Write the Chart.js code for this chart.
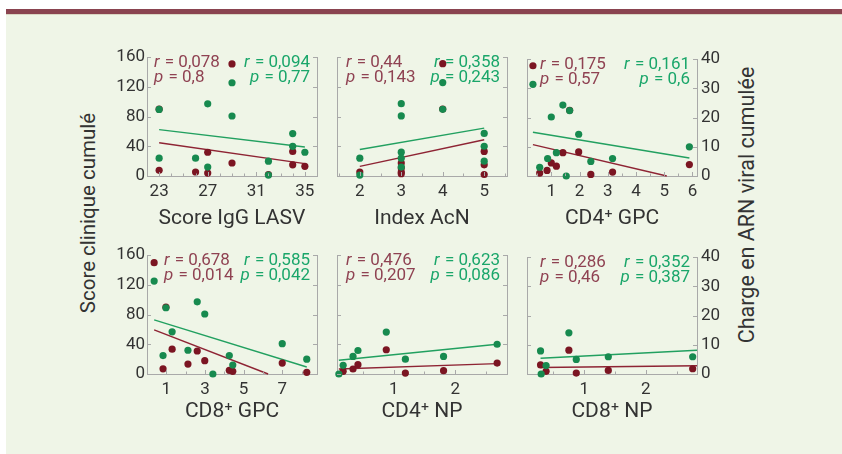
<!DOCTYPE html>
<html>
<head>
<meta charset="utf-8">
<script src="https://cdn.jsdelivr.net/npm/chart.js@4.4.1/dist/chart.umd.min.js"></script>
<style>
  body { margin: 0; width: 842px; height: 454px; background: #fff; position: relative; overflow: hidden; font-family: Roboto, "Noto Sans", sans-serif; }
  #bar { position: absolute; left: 6px; top: 9px; width: 836px; height: 5px; background: #8a4450; }
  #bg { position: absolute; left: 6px; top: 14px; width: 836px; height: 440px; background: #eff5e7; border-top: 1px solid #d9d6c2; }
  canvas { position: absolute; }
  .ytitle { position: absolute; width: 320px; height: 24px; line-height: 24px; text-align: center; font-size: 20.5px; color: #333; transform: rotate(-90deg); }
</style>
</head>
<body>
<div id="bar"></div>
<div id="bg"></div>
<div class="ytitle" style="left:-72px;top:201px">Score clinique cumulé</div>
<div class="ytitle" style="left:587px;top:193px;font-size:21.5px">Charge en ARN viral cumulée</div>
<script>
const panelTitles = ['Score IgG LASV', 'Index AcN', 'CD4⁺ GPC', 'CD8⁺ GPC', 'CD4⁺ NP', 'CD8⁺ NP']
const xMin = [22, 1.45, 0.14, 0, 0.08, 0.07]
const xMax = [36, 5.55, 6.16, 8.8, 2.84, 2.83]
const xTickValues = [[23, 27, 31, 35], [2, 3, 4, 5], [1, 2, 3, 4, 5, 6], [1, 3, 5, 7], [1, 2], [1, 2]]
const xMinorStep = [1, 0.5, 0.5, 1, 0.5, 0.5]
const scoreTicks = [0, 40, 80, 120, 160]
const chargeTicks = [0, 10, 20, 30, 40]

// score clinique (axe gauche), [x, y]
const score1 = [[29, 151], [23, 90], [23, 7.6], [26, 5.4], [27, 32], [27, 4], [29, 17.5], [32, 2], [34, 33], [34, 15], [35, 13]]
const score2 = [[4, 151], [4, 90], [2, 5.4], [3, 17.5], [3, 10.8], [3, 5.4], [3, 3.1], [5, 33], [5, 15], [5, 2]]
const score3 = [[0.35, 151], [1.65, 90], [0.59, 4], [0.85, 7.6], [1.0, 17.9], [1.18, 13.4], [1.41, 32], [1.97, 33], [2.4, 2.2], [3.17, 5.4], [5.89, 15.7]]
const score4 = [[0.37, 150], [0.98, 90], [0.83, 7], [1.3, 33.5], [2.12, 13.4], [2.6, 31], [2.99, 18], [4.26, 5], [4.44, 3.6], [7.0, 14.7], [8.27, 2.2]]
const score5 = [[0.18, 3.6], [0.34, 6.7], [0.42, 12.5], [0.88, 32.6], [1.19, 1.3], [1.81, 4.5], [2.68, 14.7]]
const score6 = [[0.29, 12.5], [0.38, 3.6], [0.75, 32.6], [0.87, 1.3], [1.39, 4.9], [2.76, 7.2]]

// charge en ARN viral (axe droit), [x, y]
const charge1 = [[29, 31.4], [23, 22.4], [27, 24.3], [29, 20.2], [23, 6], [26, 6], [27, 3], [32, 5], [32, 0.3], [34, 14.3], [34, 10], [35, 8]]
const charge2 = [[4, 31.4], [4, 22.4], [2, 6], [2, 0.3], [3, 24.3], [3, 20.2], [3, 8], [3, 6], [3, 3], [5, 14.3], [5, 10], [5, 5]]
const charge3 = [[0.35, 31.4], [0.59, 3], [0.87, 6], [1.0, 20.2], [1.18, 8], [1.41, 24.3], [1.53, 0], [1.65, 22.4], [1.97, 14.3], [2.4, 5], [3.17, 6], [5.89, 10]]
const charge4 = [[0.37, 31.3], [0.83, 6.2], [0.98, 22.3], [1.3, 14.2], [2.12, 8], [2.6, 24.3], [2.99, 20.2], [3.41, 0], [4.26, 6.2], [4.44, 3], [7.0, 10.2], [8.27, 5]]
const charge5 = [[0.11, 0], [0.18, 2.9], [0.34, 5.9], [0.42, 7.9], [0.88, 14.1], [1.19, 5], [1.81, 5.9], [2.68, 10]]
const charge6 = [[0.29, 7.9], [0.3, 0], [0.38, 2.9], [0.75, 14.1], [0.87, 5], [1.39, 5.9], [2.76, 5.9]]

// droites de regression [x0, y0, x1, y1]
const fitScore = [[23, 44.8, 35, 16.6], [2, 13, 5, 48.8], [0.35, 43, 5.09, 0], [0.37, 59.4, 6.27, 0], [0.11, 6.7, 2.68, 13.9], [0.29, 8.9, 2.83, 11.2]]
const fitCharge = [[23, 15.6, 35, 9.75], [2, 8.9, 5, 16.1], [0.35, 15, 5.89, 6.15], [0.37, 18.2, 8.27, 2.35], [0.11, 4.6, 2.68, 10], [0.29, 5.4, 2.83, 8.15]]

const rScore = ['0,078', '0,44', '0,175', '0,678', '0,476', '0,286']
const pScore = ['0,8', '0,143', '0,57', '0,014', '0,207', '0,46']
const rCharge = ['0,094', '0,358', '0,161', '0,585', '0,623', '0,352']
const pCharge = ['0,77', '0,243', '0,6', '0,042', '0,086', '0,387']

const scores = [score1, score2, score3, score4, score5, score6]
const charges = [charge1, charge2, charge3, charge4, charge5, charge6]

const FONT = 'Roboto, "Noto Sans", sans-serif'
const MAROON = '#7b1522'
const GREEN = '#178a4f'
const FRAME = '#a9a9a9'
const plotLefts = [147, 337, 527]
const plotTops = [57, 255]
const PLOT_W = 170, PLOT_H = 119
const PAD_L = 42, PAD_R = 32, PAD_T = 12, PAD_B = 62
const statOffset = [7, 9, 13, 17, 9, 13]
const titlePad = [7, 12]
const STAT_SIZE = 17

const toPts = arr => arr.map(p => ({ x: p[0], y: p[1] }))

function drawStat (ctx, letter, rest, x, y, align) {
  ctx.font = 'italic ' + STAT_SIZE + 'px ' + FONT
  const w1 = ctx.measureText(letter).width
  ctx.font = STAT_SIZE + 'px ' + FONT
  const w2 = ctx.measureText(rest).width
  const x0 = align === 'right' ? x - w1 - w2 : x
  ctx.font = 'italic ' + STAT_SIZE + 'px ' + FONT
  ctx.fillText(letter, x0, y)
  ctx.font = STAT_SIZE + 'px ' + FONT
  ctx.fillText(rest, x0 + w1 + 1, y)
}

const decor = {
  id: 'decor',
  afterDraw (chart, args, opts) {
    const i = opts.index
    const ctx = chart.ctx
    const a = chart.chartArea
    const sx = chart.scales.x, sy = chart.scales.y, sy2 = chart.scales.y2
    ctx.save()
    // petites graduations vers l'interieur
    ctx.strokeStyle = FRAME
    ctx.lineWidth = 1
    ctx.beginPath()
    const start = Math.ceil(xMin[i] / xMinorStep[i]) * xMinorStep[i]
    for (let v = start; v <= xMax[i]; v += xMinorStep[i]) {
      const px = Math.round(sx.getPixelForValue(v)) + 0.5
      const len = xTickValues[i].includes(Math.round(v * 100) / 100) ? 4 : 2.5
      ctx.moveTo(px, a.bottom)
      ctx.lineTo(px, a.bottom - len)
    }
    scoreTicks.forEach(v => {
      const py = Math.round(sy.getPixelForValue(v)) + 0.5
      ctx.moveTo(a.left, py)
      ctx.lineTo(a.left + 4, py)
    })
    chargeTicks.forEach(v => {
      const py = Math.round(sy2.getPixelForValue(v)) + 0.5
      ctx.moveTo(a.right, py)
      ctx.lineTo(a.right - 4, py)
    })
    ctx.stroke()
    // coefficients
    ctx.textBaseline = 'alphabetic'
    ctx.fillStyle = '#8f4252'
    drawStat(ctx, 'r', ' = ' + rScore[i], a.left + statOffset[i], a.top + 10, 'left')
    drawStat(ctx, 'p', ' = ' + pScore[i], a.left + statOffset[i], a.top + 25, 'left')
    ctx.fillStyle = '#1aa66a'
    drawStat(ctx, 'r', ' = ' + rCharge[i], a.right - 8, a.top + 10, 'right')
    drawStat(ctx, 'p', ' = ' + pCharge[i], a.right - 8, a.top + 25, 'right')
    ctx.restore()
  }
}

function makeChart (i) {
  const col = i % 3
  const row = Math.floor(i / 3)
  const canvas = document.createElement('canvas')
  canvas.width = PLOT_W + PAD_L + PAD_R
  canvas.height = PLOT_H + PAD_T + PAD_B
  canvas.style.left = (plotLefts[col] - PAD_L) + 'px'
  canvas.style.top = (plotTops[row] - PAD_T) + 'px'
  document.body.appendChild(canvas)

  const f = fitScore[i], g = fitCharge[i]
  const tickFont = { family: FONT, size: 17 }
  new Chart(canvas.getContext('2d'), {
    type: 'scatter',
    data: {
      datasets: [
        { type: 'scatter', data: toPts(charges[i]), yAxisID: 'y2', backgroundColor: GREEN, borderWidth: 0, pointRadius: 3.6, order: 0 },
        { type: 'scatter', data: toPts(scores[i]), yAxisID: 'y', backgroundColor: MAROON, borderWidth: 0, pointRadius: 3.6, order: 1 },
        { type: 'line', data: [{ x: g[0], y: g[1] }, { x: g[2], y: g[3] }], yAxisID: 'y2', borderColor: '#22a060', borderWidth: 1.4, pointRadius: 0, fill: false, order: 2 },
        { type: 'line', data: [{ x: f[0], y: f[1] }, { x: f[2], y: f[3] }], yAxisID: 'y', borderColor: '#8e2434', borderWidth: 1.4, pointRadius: 0, fill: false, order: 3 }
      ]
    },
    options: {
      responsive: false,
      animation: false,
      clip: false,
      layout: { padding: { top: PAD_T, left: 0, right: 0, bottom: 0 } },
      plugins: {
        legend: { display: false },
        tooltip: { enabled: false },
        decor: { index: i }
      },
      scales: {
        x: {
          type: 'linear',
          min: xMin[i],
          max: xMax[i],
          afterFit: s => { s.height = PAD_B },
          afterBuildTicks: s => { s.ticks = xTickValues[i].map(v => ({ value: v })) },
          ticks: { font: tickFont, color: '#333', padding: 6, maxRotation: 0, autoSkip: false },
          grid: { display: false, drawTicks: false },
          border: { color: FRAME },
          title: { display: true, text: panelTitles[i], color: '#333', font: { family: FONT, size: 21 }, padding: { top: 0, bottom: titlePad[row] } }
        },
        y: {
          position: 'left',
          min: 0,
          max: 160,
          afterFit: s => { s.width = PAD_L },
          afterBuildTicks: s => { s.ticks = scoreTicks.map(v => ({ value: v })) },
          ticks: { display: col === 0, font: tickFont, color: '#333', padding: 2 },
          grid: { display: false, drawTicks: false },
          border: { color: FRAME }
        },
        y2: {
          position: 'right',
          min: 0,
          max: 40,
          afterFit: s => { s.width = PAD_R },
          afterBuildTicks: s => { s.ticks = chargeTicks.map(v => ({ value: v })) },
          ticks: { display: col === 2, font: tickFont, color: '#333', padding: 4 },
          grid: { display: false, drawTicks: false },
          border: { color: FRAME }
        }
      }
    },
    plugins: [decor]
  })
}

for (let i = 0; i < 6; i++) makeChart(i)
</script>
</body>
</html>
